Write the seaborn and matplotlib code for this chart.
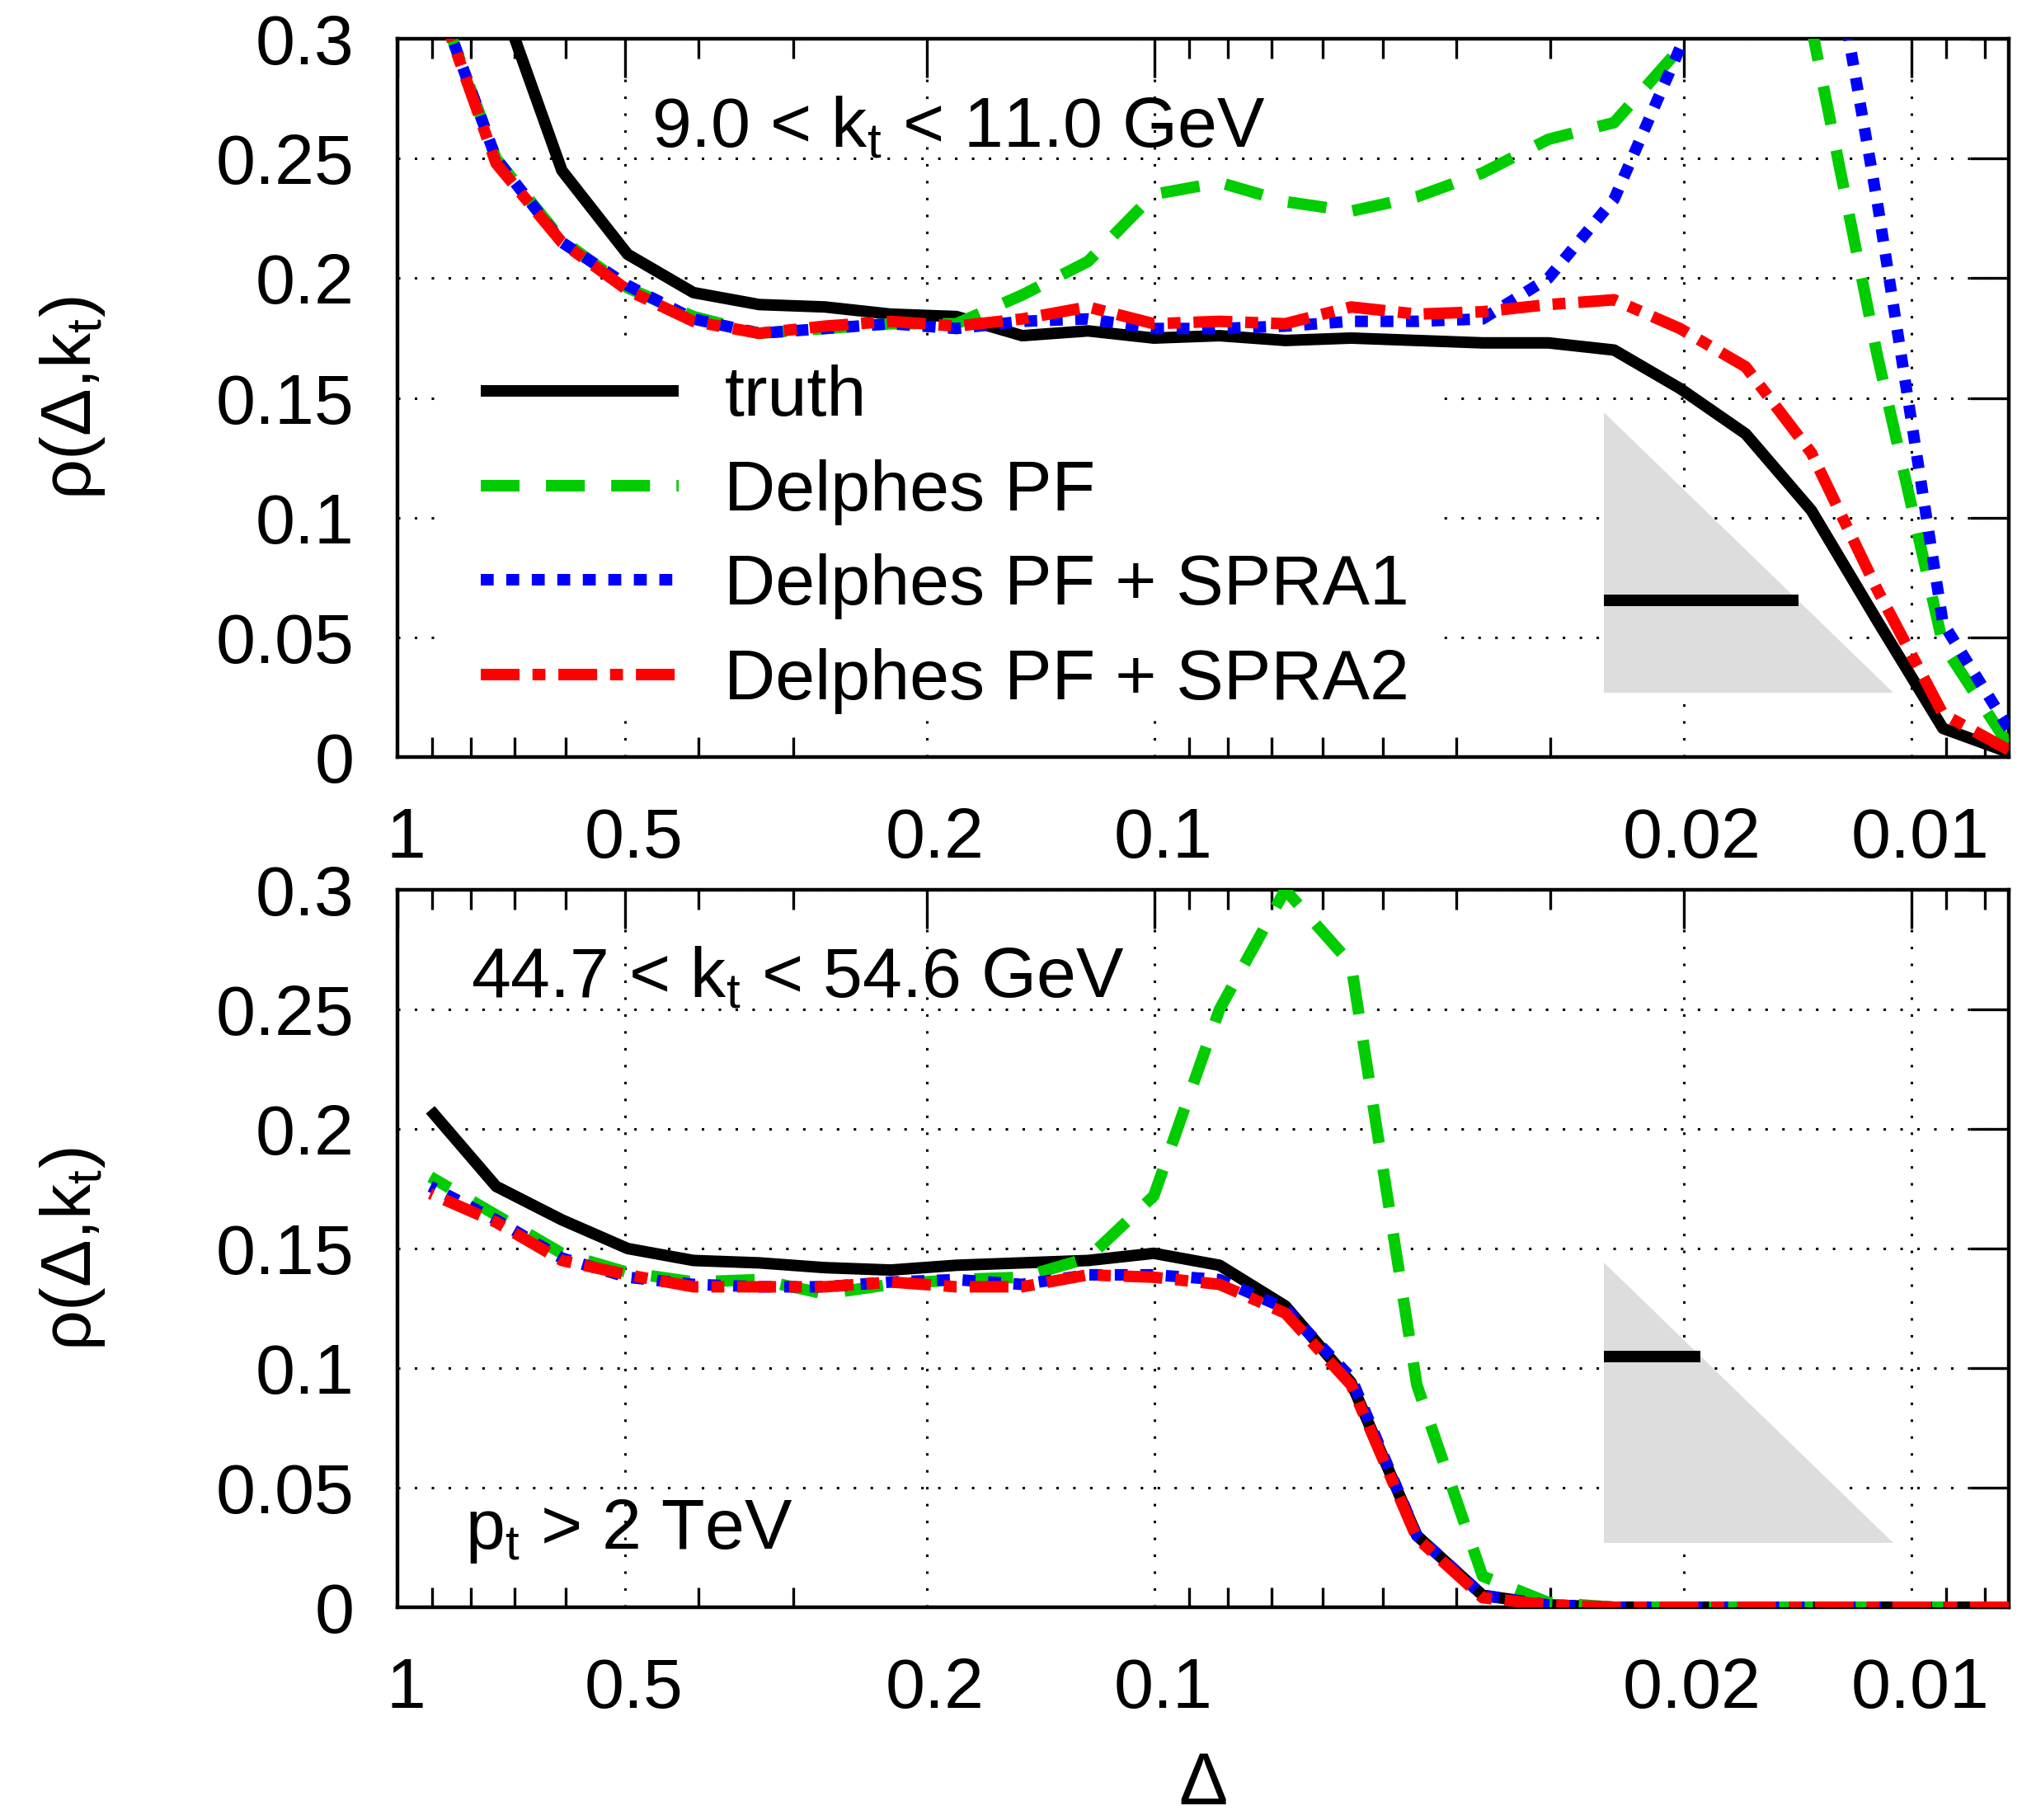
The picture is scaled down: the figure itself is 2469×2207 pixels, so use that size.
import numpy as np
import pandas as pd
import matplotlib
matplotlib.use("Agg")
import matplotlib.pyplot as plt
import seaborn as sns
from matplotlib.patches import Polygon, Rectangle
from matplotlib.ticker import FixedLocator, FuncFormatter, NullFormatter
from matplotlib.transforms import ScaledTranslation

# ---------------------------------------------------------------- data
# bin centres in ln(1/Delta)
ln_inv_delta = [0.1, 0.3, 0.5, 0.7, 0.9, 1.1, 1.3, 1.5, 1.7, 1.9, 2.1, 2.3, 2.5,
                2.7, 2.9, 3.1, 3.3, 3.5, 3.7, 3.9, 4.1, 4.3, 4.5, 4.7, 4.9]

series_names = ["truth", "Delphes PF", "Delphes PF + SPRA1", "Delphes PF + SPRA2"]

# 9.0 < kt < 11.0 GeV
truth_low = [0.420, 0.322, 0.245, 0.210, 0.194, 0.189, 0.188, 0.185, 0.184, 0.176,
             0.178, 0.175, 0.176, 0.174, 0.175, 0.174, 0.173, 0.173, 0.170, 0.154,
             0.135, 0.103, 0.057, 0.012, 0.002]
pf_low = [0.325, 0.250, 0.216, 0.196, 0.184, 0.177, 0.179, 0.181, 0.181, 0.193,
          0.207, 0.235, 0.240, 0.232, 0.228, 0.234, 0.244, 0.258, 0.265, 0.296,
          0.360, 0.305, 0.168, 0.047, 0.005]
spra1_low = [0.325, 0.250, 0.215, 0.197, 0.183, 0.177, 0.179, 0.181, 0.179, 0.182,
             0.183, 0.179, 0.179, 0.180, 0.182, 0.182, 0.183, 0.200, 0.233, 0.296,
             0.400, 0.390, 0.232, 0.056, 0.012]
spra2_low = [0.325, 0.248, 0.215, 0.195, 0.182, 0.177, 0.180, 0.182, 0.180, 0.183,
             0.188, 0.181, 0.182, 0.181, 0.188, 0.185, 0.186, 0.189, 0.191, 0.179,
             0.163, 0.127, 0.070, 0.018, 0.003]

# 44.7 < kt < 54.6 GeV
truth_high = [0.208, 0.176, 0.162, 0.150, 0.145, 0.144, 0.142, 0.141, 0.143, 0.144,
              0.145, 0.148, 0.143, 0.126, 0.094, 0.030, 0.005, 0.001, 0.0, 0.0,
              0.0, 0.0, 0.0, 0.0, 0.0]
pf_high = [0.180, 0.164, 0.148, 0.140, 0.136, 0.137, 0.131, 0.135, 0.137, 0.138,
           0.146, 0.172, 0.250, 0.300, 0.269, 0.093, 0.013, 0.002, 0.0, 0.0,
           0.0, 0.0, 0.0, 0.0, 0.0]
spra1_high = [0.176, 0.162, 0.146, 0.138, 0.135, 0.134, 0.134, 0.136, 0.137, 0.135,
              0.139, 0.139, 0.137, 0.125, 0.096, 0.030, 0.005, 0.001, 0.0, 0.0,
              0.0, 0.0, 0.0, 0.0, 0.0]
spra2_high = [0.173, 0.161, 0.145, 0.139, 0.134, 0.134, 0.134, 0.136, 0.134, 0.134,
              0.139, 0.138, 0.135, 0.123, 0.093, 0.029, 0.004, 0.001, 0.0, 0.0,
              0.0, 0.0, 0.0, 0.0, 0.0]

panel_labels = ["9.0 < k$_t$ < 11.0 GeV", "44.7 < k$_t$ < 54.6 GeV"]

x_major = [1.0, 0.5, 0.2, 0.1, 0.02, 0.01]
y_major = [0.0, 0.05, 0.1, 0.15, 0.2, 0.25, 0.3]

# Lund-plane sketch: triangle corners (ln 1/Delta, rho-axis units) and kt slice heights
sketch_ln = [3.67, 3.67, 4.55]
sketch_y = [0.144, 0.027, 0.027]
slice_height = [0.0655, 0.105]

# ---------------------------------------------------------------- style
sns.set_theme(style="white")
plt.rcParams["font.family"] = ["Liberation Sans", "DejaVu Sans"]
plt.rcParams["mathtext.default"] = "regular"
for key in ["text.color", "axes.labelcolor", "xtick.color", "ytick.color", "axes.edgecolor"]:
    plt.rcParams[key] = "black"

FS = 62
LW_PX = 14
DPI = 100
lw = LW_PX * 72 / DPI

palette = {"truth": "#000000", "Delphes PF": "#00cc00",
           "Delphes PF + SPRA1": "#0000ff", "Delphes PF + SPRA2": "#ff0000"}
dash_map = {"truth": "", "Delphes PF": (3.36, 2.29),
            "Delphes PF + SPRA1": (1.12, 1.09),
            "Delphes PF + SPRA2": (3.36, 1.12, 1.12, 1.12)}

fig = plt.figure(figsize=(24.69, 22.07), dpi=DPI)
ax_top = fig.add_axes([0.1952, 0.5840, 0.7914, 0.3947])
ax_bot = fig.add_axes([0.1952, 0.1169, 0.7914, 0.3942])

panels = [
    (ax_top, [truth_low, pf_low, spra1_low, spra2_low]),
    (ax_bot, [truth_high, pf_high, spra1_high, spra2_high]),
]

delta = np.exp(-np.asarray(ln_inv_delta))
tri_x = np.exp(-np.asarray(sketch_ln))
label_shift = ScaledTranslation(0.10, 0.0, fig.dpi_scale_trans)

for k, (ax, curves) in enumerate(panels):
    frames = []
    for name, vals in zip(series_names, curves):
        frames.append(pd.DataFrame({"delta": delta, "rho": vals, "series": name}))
    df = pd.concat(frames, ignore_index=True)

    ax.set_xscale("log")
    sns.lineplot(data=df, x="delta", y="rho", hue="series", style="series",
                 hue_order=series_names, style_order=series_names,
                 palette=palette, dashes=dash_map, linewidth=lw,
                 errorbar=None, legend=False, ax=ax, zorder=3)
    for line in ax.lines:
        line.set_dash_capstyle("butt")
        line.set_solid_capstyle("butt")

    ax.set_xlim(1.0, float(np.exp(-4.9)))
    ax.set_ylim(0.0, 0.3)

    # axis ticks and grid
    ax.xaxis.set_major_locator(FixedLocator(x_major))
    ax.xaxis.set_major_formatter(FuncFormatter(lambda v, p: f"{v:g}"))
    minors = [m * 10.0 ** e for e in (-3, -2, -1) for m in range(2, 10)]
    minors = [v for v in minors if all(abs(v - t) > 1e-9 for t in x_major)]
    ax.xaxis.set_minor_locator(FixedLocator(minors))
    ax.xaxis.set_minor_formatter(NullFormatter())
    ax.yaxis.set_major_locator(FixedLocator(y_major))
    ax.yaxis.set_major_formatter(FuncFormatter(lambda v, p: f"{v:g}"))

    ax.tick_params(axis="both", which="major", direction="in", length=34, width=2.4,
                   top=True, right=True, labelsize=FS, color="black")
    ax.tick_params(axis="x", which="minor", direction="in", length=17, width=2.4,
                   top=True, bottom=True, color="black")
    ax.tick_params(axis="x", which="major", pad=43)
    ax.tick_params(axis="y", which="major", pad=38)
    ax.set_axisbelow(True)
    ax.grid(True, which="major", color="black", linestyle=(0, (1, 5.7)), linewidth=2.2)
    for sp in ax.spines.values():
        sp.set_linewidth(3.2)
        sp.set_color("black")

    # nudge the Delta tick labels slightly to the right
    for tick in ax.xaxis.get_major_ticks():
        tick.label1.set_transform(tick.label1.get_transform() + label_shift)

    # Lund-plane sketch with the kt slice
    ax.add_patch(Polygon(list(zip(tri_x, sketch_y)), closed=True,
                         facecolor="#dddddd", edgecolor="none", zorder=1))
    h = slice_height[k]
    frac = (sketch_y[0] - h) / (sketch_y[0] - sketch_y[2])
    ln_end = sketch_ln[0] + frac * (sketch_ln[2] - sketch_ln[0])
    ax.plot([tri_x[0], np.exp(-ln_end)], [h, h], color="black", lw=lw,
            solid_capstyle="butt", zorder=2)

    ax.set_ylabel("ρ(Δ,k$_t$)", fontsize=FS)
    ax.yaxis.set_label_coords(-0.18, 0.5)
    ax.set_xlabel("")

# panel annotations
ax_top.text(0.1576, 0.8496, panel_labels[0], transform=ax_top.transAxes,
            fontsize=FS, ha="left", va="baseline")
ax_bot.text(0.0454, 0.8506, panel_labels[1], transform=ax_bot.transAxes,
            fontsize=FS, ha="left", va="baseline")
ax_bot.text(0.042, 0.0816, "p$_t$ > 2 TeV", transform=ax_bot.transAxes,
            fontsize=FS, ha="left", va="baseline")

# opaque key area
ax_top.add_patch(Rectangle((0.026, 0.06), 0.623, 0.513, transform=ax_top.transAxes,
                           facecolor="white", edgecolor="none", zorder=1))
handles = ax_top.lines[:4]
ax_top.legend(handles, series_names, loc="upper left", bbox_to_anchor=(0.0517, 0.546),
              frameon=False, fontsize=FS, handlelength=2.79, handletextpad=0.64,
              labelspacing=0.40, borderpad=0.0, borderaxespad=0.0)

ax_bot.set_xlabel("Δ", fontsize=64)
ax_bot.xaxis.set_label_coords(0.5, -0.200)

fig.savefig("out.png", dpi=DPI)
